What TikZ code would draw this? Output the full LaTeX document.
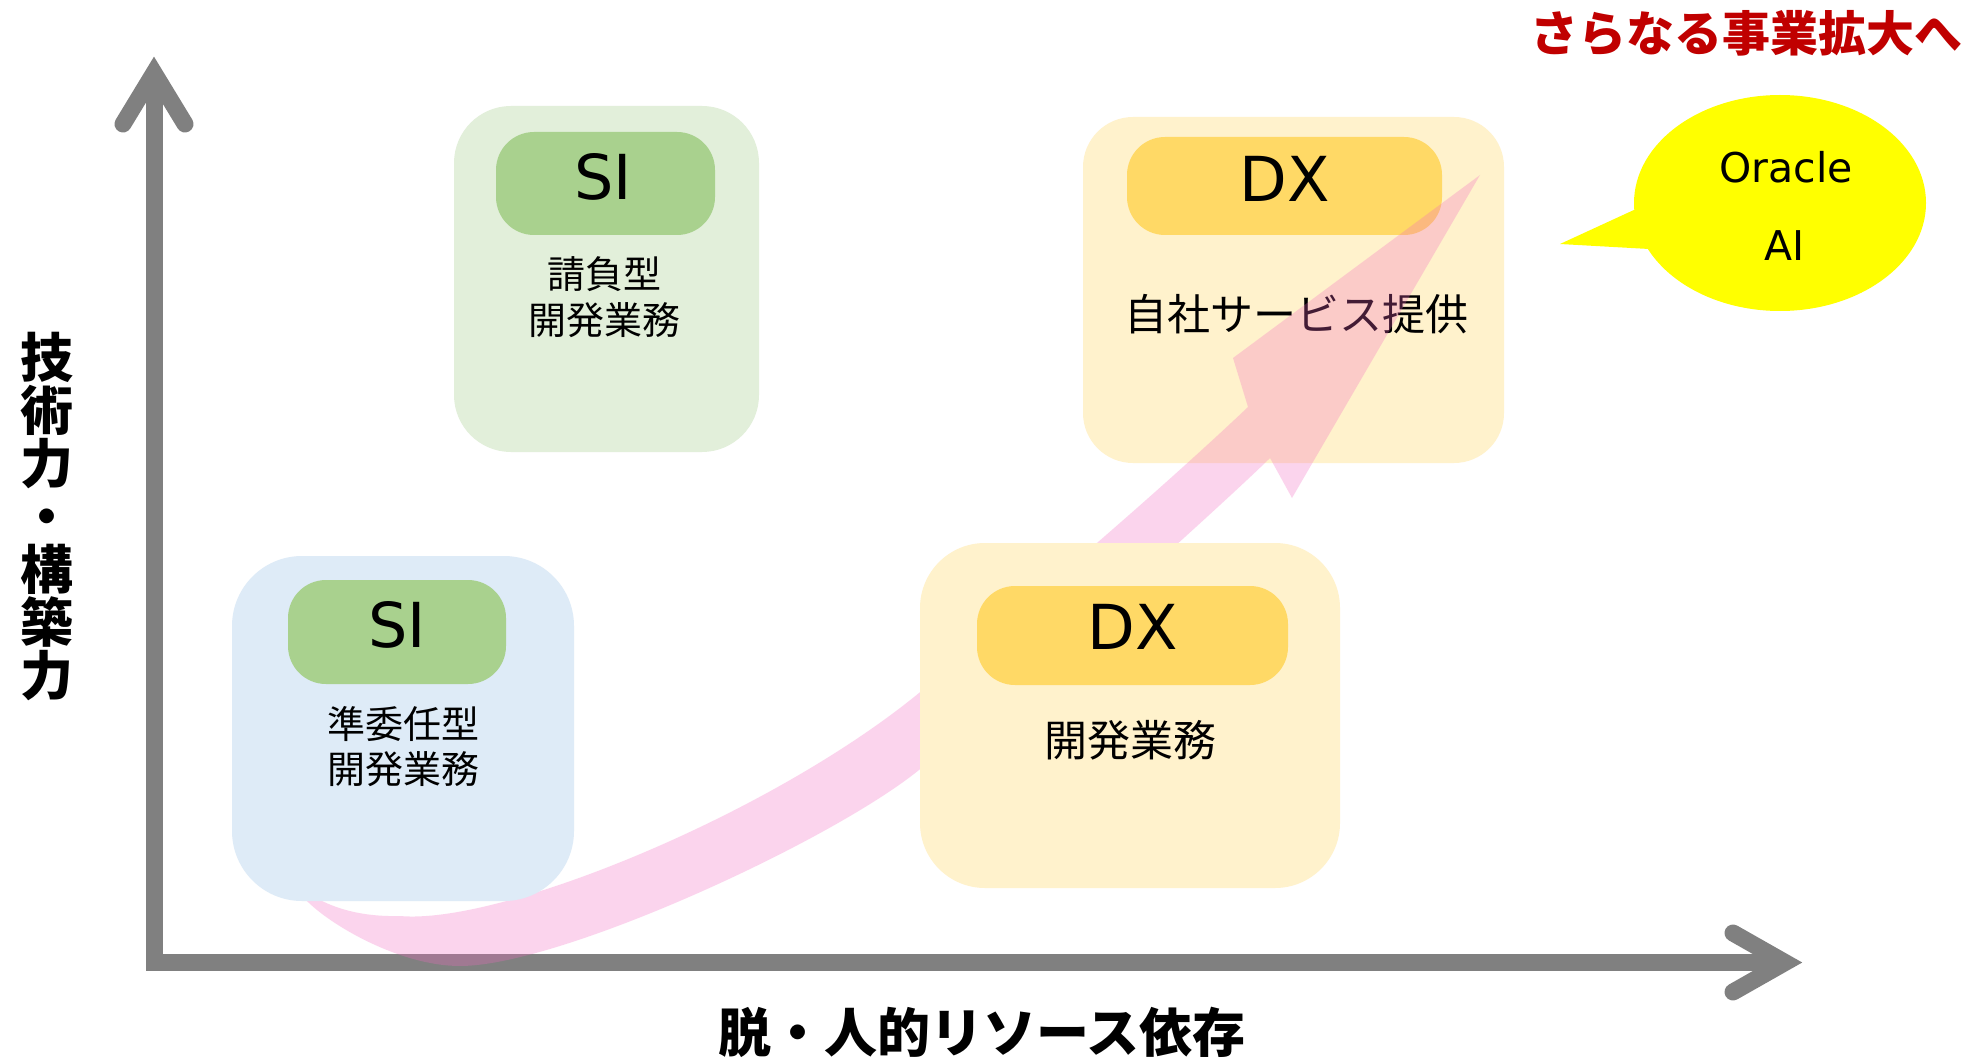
\documentclass[tikz,border=0pt]{standalone}
\usepackage{fontspec}
\setmainfont{Noto Sans CJK JP}
\newfontfamily\latinfont{DejaVu Sans}
\usetikzlibrary{shapes.geometric}
\definecolor{axisgray}{HTML}{808080}
\definecolor{lgreen}{HTML}{E2EFDA}
\definecolor{mgreen}{HTML}{A9D18E}
\definecolor{lblue}{HTML}{DEEBF7}
\definecolor{lyellow}{HTML}{FFF2CC}
\definecolor{myellow}{HTML}{FFD966}
\definecolor{bubbleyellow}{HTML}{FFFF00}
\definecolor{titlered}{HTML}{C00000}
\definecolor{arrowpink}{RGB}{244,103,193}
\tikzset{
  axisline/.style={draw=axisgray, line width=17pt, line join=miter},
  headline/.style={draw=axisgray, line width=17pt, line cap=round, line join=miter},
  panel/.style={rectangle, draw=none, inner sep=0pt, outer sep=0pt},
  tagbox/.style={rectangle, draw=none, inner sep=0pt, outer sep=0pt, rounded corners=38pt},
  tagtext/.style={inner sep=0pt, font=\latinfont\fontsize{62}{62}\selectfont},
  sitext/.style={inner sep=0pt, align=center, font=\fontsize{38}{46}\selectfont},
  dxtext/.style={inner sep=0pt, align=center, font=\fontsize{43}{50}\selectfont},
  bubbletext/.style={inner sep=0pt, font=\latinfont\fontsize{41}{41}\selectfont},
  axislabel/.style={inner sep=0pt, align=center, font=\bfseries\fontsize{53}{53}\selectfont},
}
\begin{document}
\begin{tikzpicture}[x=1pt,y=-1pt]
\useasboundingbox (0,0) rectangle (1970,1059);
\fill[white] (0,0) rectangle (1970,1059);

% axes
\coordinate (ytip) at (154,73);
\coordinate (origin) at (154,962.5);
\coordinate (xtip) at (1785,962.5);
\draw[axisline] (ytip) -- (origin) -- (xtip);
\coordinate (yarmL) at (123,124);
\coordinate (yarmR) at (185,124);
\draw[headline] (yarmL) -- (ytip) -- (yarmR);
\coordinate (xarmU) at (1733,933);
\coordinate (xarmD) at (1733,992);
\draw[headline] (xarmU) -- (xtip) -- (xarmD);

% upper SI panel
\node[panel, fill=lgreen, rounded corners=57pt, minimum width=305pt, minimum height=346pt] (siTop) at (606.5,279) {};
\node[tagbox, fill=mgreen, minimum width=219pt, minimum height=103pt] (siTopTag) at (605.5,183.5) {};
\node[tagtext] (siTopLbl) at (603,177) {SI};
\node[sitext] (siTopTxt) at (604,297) {請負型\\開発業務};

% upper DX panel
\node[panel, fill=lyellow, rounded corners=50pt, minimum width=421pt, minimum height=346pt] (dxTop) at (1293.5,290) {};
\node[tagbox, fill=myellow, minimum width=315pt, minimum height=98pt] (dxTopTag) at (1284.5,186) {};
\node[tagtext] (dxTopLbl) at (1285,178.5) {DX};
\node[dxtext] (dxTopTxt) at (1296,314) {自社サービス提供};

% pink growth arrow
\fill[arrowpink, fill opacity=0.28]
  (290,878) .. controls (320,908) and (360,917) .. (400,916)
  .. controls (500,925) and (770,815) .. (919,693)
  .. controls (1000,627) and (1150,500) .. (1248,407)
  -- (1233,358) -- (1480,175) -- (1292,498) -- (1270,458)
  .. controls (1230,498) and (1000,705) .. (919,770)
  .. controls (830,842) and (560,966) .. (460,966)
  .. controls (400,966) and (330,925) .. (306,900)
  -- cycle;

% lower SI panel
\node[panel, fill=lblue, rounded corners=70pt, minimum width=342pt, minimum height=345pt] (siLow) at (403,728.5) {};
\node[tagbox, fill=mgreen, minimum width=218pt, minimum height=104pt] (siLowTag) at (397,632) {};
\node[tagtext] (siLowLbl) at (397,625) {SI};
\node[sitext, font=\fontsize{38}{45}\selectfont] (siLowTxt) at (403,746.5) {準委任型\\開発業務};

% lower DX panel
\node[panel, fill=lyellow, rounded corners=65pt, minimum width=420pt, minimum height=345pt] (dxLow) at (1130,715.5) {};
\node[tagbox, fill=myellow, minimum width=311pt, minimum height=99pt] (dxLowTag) at (1132.5,635.5) {};
\node[tagtext] (dxLowLbl) at (1133,627) {DX};
\node[dxtext] (dxLowTxt) at (1130,740) {開発業務};

% speech bubble
\coordinate (tailtip) at (1560,244);
\fill[bubbleyellow] (1636,209) -- (tailtip) -- (1649,249) -- (1700,230) -- cycle;
\node[ellipse, fill=bubbleyellow, draw=none, inner sep=0pt, minimum width=292pt, minimum height=216pt] (bubble) at (1780,203) {};
\node[bubbletext] (oracle) at (1786,167.5) {Oracle};
\node[bubbletext] (ai) at (1785,246) {AI};

% titles and axis labels
\node[inner sep=0pt, text=titlered, font=\bfseries\fontsize{48}{48}\selectfont] (title) at (1746,33) {さらなる事業拡大へ};
\node[axislabel] (xlabel) at (982,1032) {脱・人的リソース依存};
\node[axislabel] (ylabel) at (47,517) {技\\術\\力\\・\\構\\築\\力};
\end{tikzpicture}
\end{document}
